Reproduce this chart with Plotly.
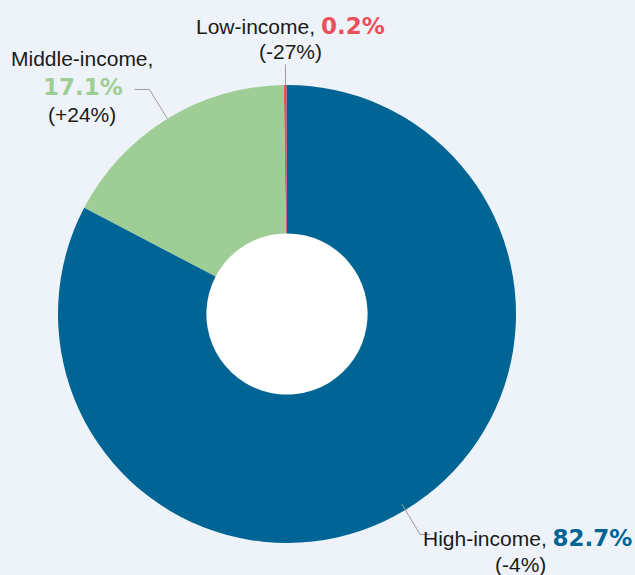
import math
import plotly.graph_objects as go

categories = ["Low-income", "Middle-income", "High-income"]
shares = [0.2, 17.1, 82.7]
changes = ["-27%", "+24%", "-4%"]
colors = ["#E8505A", "#9ECE96", "#006594"]

W, H = 635, 575
CX, CY, R = 287, 314, 229
HOLE = 0.352
BG = "#EEF3FA"

def px(x):
    return x / W

def py(y):
    return 1 - y / H

fig = go.Figure(go.Pie(
    labels=categories, values=shares, sort=False, direction="counterclockwise",
    rotation=-0.8, hole=HOLE, marker=dict(colors=colors, line=dict(width=0)),
    textinfo="none", hoverinfo="label+percent", showlegend=False,
    domain=dict(x=[px(CX - R), px(CX + R)], y=[py(CY + R), py(CY - R)]),
))

total = sum(shares)
cum = 0
mids = []
for v in shares:
    mids.append((cum + v / 2) / total * 2 * math.pi)
    cum += v

def pt(angle, rr):
    # counterclockwise from 12 o'clock
    return CX - rr * R * math.sin(angle), CY - rr * R * math.cos(angle)

shapes = []
# white centre of the donut
hr = HOLE * R + 1
shapes.append(dict(type="circle", xref="paper", yref="paper", layer="below",
                   x0=px(CX - hr), x1=px(CX + hr), y0=py(CY + hr), y1=py(CY - hr),
                   fillcolor="white", line=dict(width=0)))
line = dict(color="#9A9A9A", width=1)
x0, y0 = pt(mids[0], 1.0)
x1, y1 = pt(mids[0], 1.09)
shapes.append(dict(type="line", xref="paper", yref="paper", x0=px(x0), y0=py(y0),
                   x1=px(x1), y1=py(y1), line=line))
x0, y0 = pt(mids[1], 1.0)
x1, y1 = pt(mids[1], 1.15)
shapes.append(dict(type="path", xref="paper", yref="paper",
                   path=f"M {px(x0)} {py(y0)} L {px(x1)} {py(y1)} L {px(x1-15)} {py(y1)}",
                   line=line))
x0, y0 = pt(mids[2], 0.97)
x1, y1 = pt(mids[2], 1.125)
shapes.append(dict(type="path", xref="paper", yref="paper",
                   path=f"M {px(x0)} {py(y0)} L {px(x1)} {py(y1)} L {px(x1+10)} {py(y1)}",
                   line=line))

FONT = "Liberation Sans, Arial, sans-serif"
PFONT = "DejaVu Sans, sans-serif"

def big(txt, col):
    return f"<b><span style='color:{col};font-size:23px;font-family:{PFONT}'>{txt}</span></b>"

ann = []
def add(x, y, text, xanchor="center"):
    ann.append(dict(x=px(x), y=py(y), xref="paper", yref="paper", text=text,
                    showarrow=False, xanchor=xanchor, yanchor="middle",
                    font=dict(family=FONT, size=21, color="#1a1a1a")))

add(290, 26, f"{categories[0]}, " + big(f"{shares[0]}%", colors[0]))
add(290, 52, f"({changes[0]})")
add(82, 58, f"{categories[1]},")
add(83, 87, big(f"{shares[1]}%", colors[1]))
add(82, 114, f"({changes[1]})")
add(527, 538, f"{categories[2]}, " + big(f"{shares[2]}%", colors[2]))
add(520, 564, f"({changes[2]})")

fig.update_layout(width=W, height=H, margin=dict(l=0, r=0, t=0, b=0),
                  paper_bgcolor=BG, plot_bgcolor=BG, shapes=shapes, annotations=ann)
fig.write_html("out.html")
